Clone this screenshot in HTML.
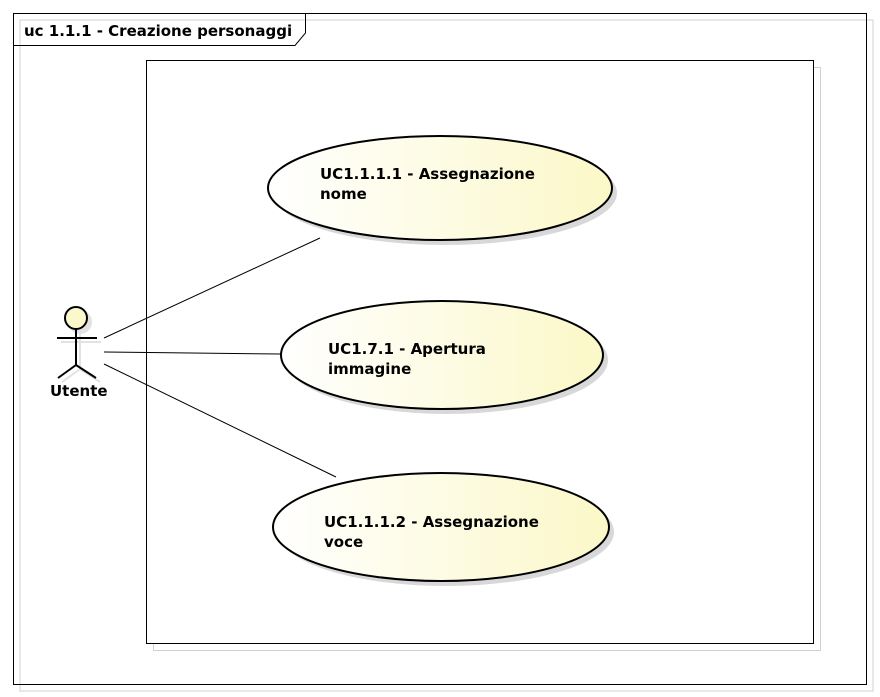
<!DOCTYPE html>
<html><head><style>
html,body{margin:0;padding:0;background:#fff;width:880px;height:697px;overflow:hidden}
text{font-family:"DejaVu Sans","Liberation Sans",sans-serif;font-weight:bold;font-size:15px;fill:#000}
</style></head><body>
<svg width="880" height="697" xmlns="http://www.w3.org/2000/svg">
<defs>
<linearGradient id="g" x1="0" y1="0" x2="1" y2="0">
<stop offset="0" stop-color="#ffffff"/><stop offset="1" stop-color="#fbf8c8"/>
</linearGradient>
</defs>
<rect x="20" y="20" width="853" height="671" fill="none" stroke="#d0d0d0"/>
<rect x="13.5" y="13.5" width="853" height="671" fill="none" stroke="#000"/>
<path d="M13.5 45.5 H295 L305.5 33 V13.5" fill="none" stroke="#000"/>
<text x="24" y="36">uc 1.1.1 - Creazione personaggi</text>
<rect x="153.5" y="67.5" width="667" height="583" fill="none" stroke="#d0d0d0"/>
<rect x="146.5" y="60.5" width="667" height="583" fill="#fff" stroke="#000"/>
<g stroke="#000" stroke-width="1">
<line x1="104" y1="338" x2="320" y2="238"/>
<line x1="104" y1="352" x2="281" y2="354"/>
<line x1="104" y1="364" x2="336" y2="477"/>
</g>
<g fill="#d8d8d8">
<ellipse cx="445" cy="193" rx="172" ry="52"/>
<ellipse cx="447" cy="360" rx="161" ry="54"/>
<ellipse cx="446" cy="532" rx="168" ry="54"/>
</g>
<g fill="url(#g)" stroke="#000" stroke-width="2">
<ellipse cx="440" cy="188" rx="172" ry="52"/>
<ellipse cx="442" cy="355" rx="161" ry="54"/>
<ellipse cx="441" cy="527" rx="168" ry="54"/>
</g>
<text x="320" y="179">UC1.1.1.1 - Assegnazione</text>
<text x="320" y="199">nome</text>
<text x="328" y="354">UC1.7.1 - Apertura</text>
<text x="328" y="374">immagine</text>
<text x="324" y="527">UC1.1.1.2 - Assegnazione</text>
<text x="324" y="547">voce</text>
<g stroke="#e2e2e2" stroke-width="2" fill="none">
<circle cx="80" cy="322" r="11" fill="#e2e2e2"/>
<line x1="80" y1="333" x2="80" y2="369"/>
<line x1="61" y1="342" x2="101" y2="342"/>
<line x1="80" y1="369" x2="62" y2="382"/>
<line x1="80" y1="369" x2="100" y2="382"/>
</g>
<g stroke="#000" stroke-width="2" fill="none">
<circle cx="76" cy="318" r="11" fill="#fbf8cc"/>
<line x1="76" y1="329" x2="76" y2="365"/>
<line x1="57" y1="338" x2="97" y2="338"/>
<line x1="76" y1="365" x2="58" y2="378"/>
<line x1="76" y1="365" x2="96" y2="378"/>
</g>
<text x="50" y="396">Utente</text>
</svg>
</body></html>
